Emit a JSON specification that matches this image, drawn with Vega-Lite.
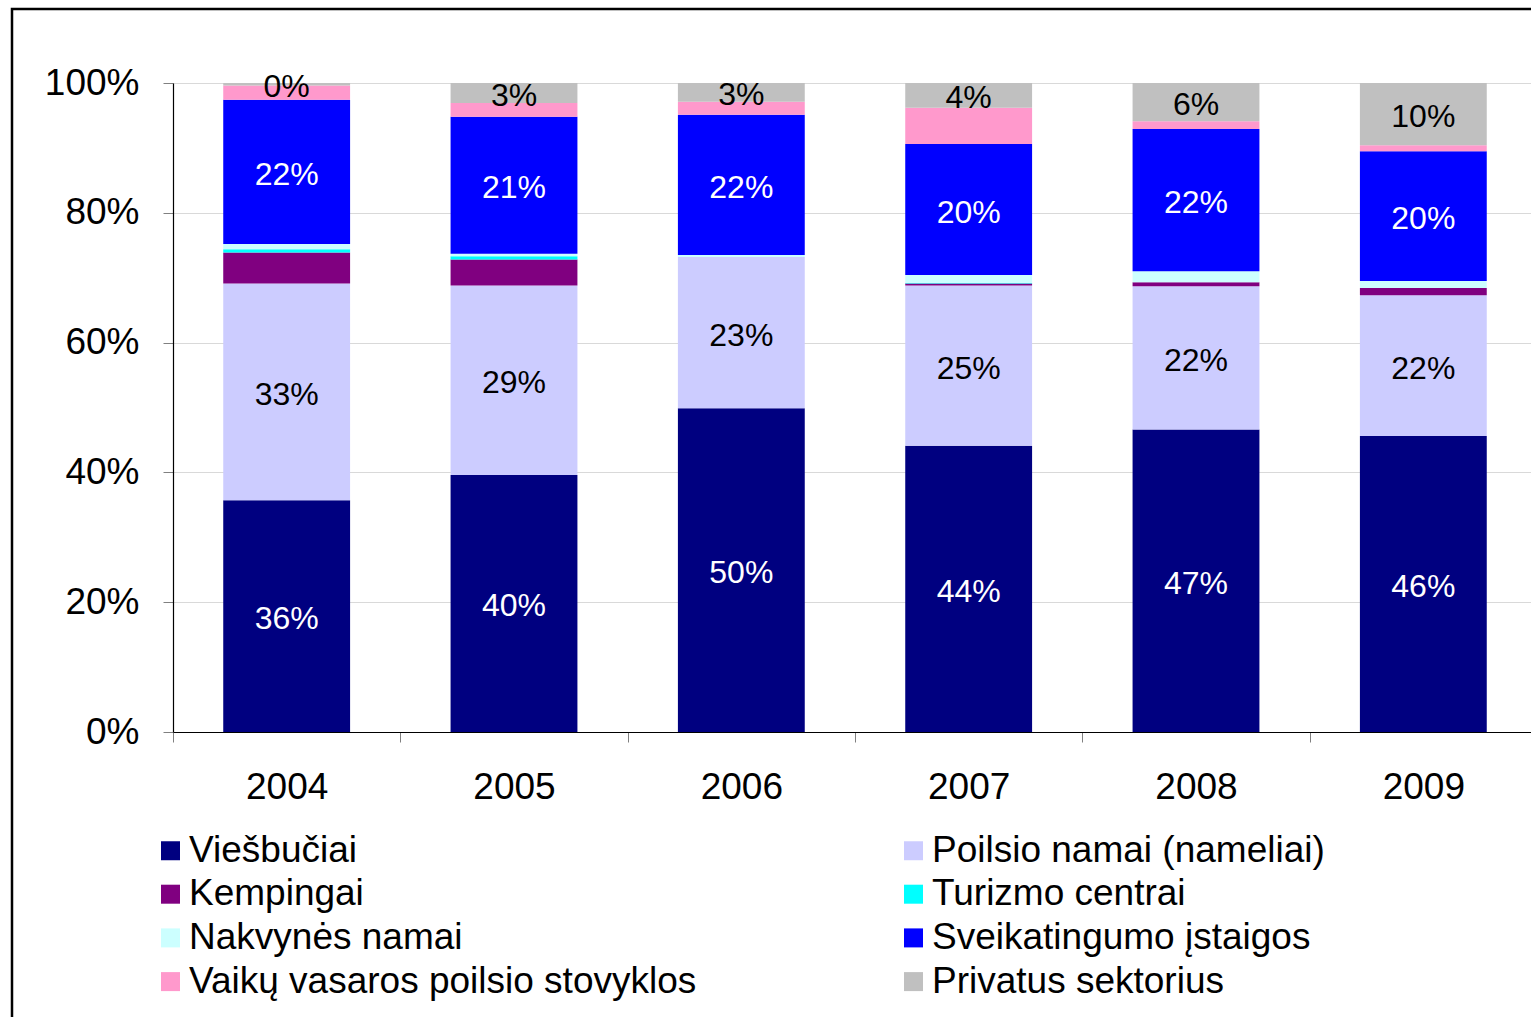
{
  "$schema": "https://vega.github.io/schema/vega-lite/v6.json",
  "autosize": {"type": "none"},
  "padding": {"left": 12, "top": 9, "right": -2, "bottom": -3},
  "width": 1521,
  "height": 1011,
  "background": "white",
  "config": {
    "font": "Liberation Sans",
    "view": {"stroke": "black", "strokeWidth": 2.5},
    "axis": {"labelFont": "Liberation Sans", "labelColor": "black", "title": null}
  },
  "data": {
    "values": [
      {"year": "2004", "cat": "Viešbučiai", "v": 35.7},
      {"year": "2004", "cat": "Poilsio namai (nameliai)", "v": 33.4},
      {"year": "2004", "cat": "Kempingai", "v": 4.8},
      {"year": "2004", "cat": "Turizmo centrai", "v": 0.5},
      {"year": "2004", "cat": "Nakvynės namai", "v": 0.8},
      {"year": "2004", "cat": "Sveikatingumo įstaigos", "v": 22.2},
      {"year": "2004", "cat": "Vaikų vasaros poilsio stovyklos", "v": 2.2},
      {"year": "2004", "cat": "Privatus sektorius", "v": 0.4},
      {"year": "2005", "cat": "Viešbučiai", "v": 39.6},
      {"year": "2005", "cat": "Poilsio namai (nameliai)", "v": 29.2},
      {"year": "2005", "cat": "Kempingai", "v": 4.0},
      {"year": "2005", "cat": "Turizmo centrai", "v": 0.5},
      {"year": "2005", "cat": "Nakvynės namai", "v": 0.4},
      {"year": "2005", "cat": "Sveikatingumo įstaigos", "v": 21.1},
      {"year": "2005", "cat": "Vaikų vasaros poilsio stovyklos", "v": 2.1},
      {"year": "2005", "cat": "Privatus sektorius", "v": 3.1},
      {"year": "2006", "cat": "Viešbučiai", "v": 49.9},
      {"year": "2006", "cat": "Poilsio namai (nameliai)", "v": 23.3},
      {"year": "2006", "cat": "Kempingai", "v": 0.0},
      {"year": "2006", "cat": "Turizmo centrai", "v": 0.0},
      {"year": "2006", "cat": "Nakvynės namai", "v": 0.3},
      {"year": "2006", "cat": "Sveikatingumo įstaigos", "v": 21.6},
      {"year": "2006", "cat": "Vaikų vasaros poilsio stovyklos", "v": 2.0},
      {"year": "2006", "cat": "Privatus sektorius", "v": 2.9},
      {"year": "2007", "cat": "Viešbučiai", "v": 44.1},
      {"year": "2007", "cat": "Poilsio namai (nameliai)", "v": 24.7},
      {"year": "2007", "cat": "Kempingai", "v": 0.3},
      {"year": "2007", "cat": "Turizmo centrai", "v": 0.1},
      {"year": "2007", "cat": "Nakvynės namai", "v": 1.2},
      {"year": "2007", "cat": "Sveikatingumo įstaigos", "v": 20.2},
      {"year": "2007", "cat": "Vaikų vasaros poilsio stovyklos", "v": 5.6},
      {"year": "2007", "cat": "Privatus sektorius", "v": 3.8},
      {"year": "2008", "cat": "Viešbučiai", "v": 46.6},
      {"year": "2008", "cat": "Poilsio namai (nameliai)", "v": 22.1},
      {"year": "2008", "cat": "Kempingai", "v": 0.6},
      {"year": "2008", "cat": "Turizmo centrai", "v": 0.0},
      {"year": "2008", "cat": "Nakvynės namai", "v": 1.7},
      {"year": "2008", "cat": "Sveikatingumo įstaigos", "v": 21.9},
      {"year": "2008", "cat": "Vaikų vasaros poilsio stovyklos", "v": 1.2},
      {"year": "2008", "cat": "Privatus sektorius", "v": 5.9},
      {"year": "2009", "cat": "Viešbučiai", "v": 45.6},
      {"year": "2009", "cat": "Poilsio namai (nameliai)", "v": 21.7},
      {"year": "2009", "cat": "Kempingai", "v": 1.1},
      {"year": "2009", "cat": "Turizmo centrai", "v": 0.0},
      {"year": "2009", "cat": "Nakvynės namai", "v": 1.1},
      {"year": "2009", "cat": "Sveikatingumo įstaigos", "v": 20.0},
      {"year": "2009", "cat": "Vaikų vasaros poilsio stovyklos", "v": 0.9},
      {"year": "2009", "cat": "Privatus sektorius", "v": 9.6}
    ]
  },
  "transform": [
    {"calculate": "indexof(['Viešbučiai','Poilsio namai (nameliai)','Kempingai','Turizmo centrai','Nakvynės namai','Sveikatingumo įstaigos','Vaikų vasaros poilsio stovyklos','Privatus sektorius'], datum.cat)", "as": "k"},
    {"stack": "v", "groupby": ["year"], "sort": [{"field": "k", "order": "ascending"}], "offset": "normalize", "as": ["v0", "v1"]},
    {"calculate": "(datum.v0 + datum.v1) / 2", "as": "mid"},
    {"calculate": "datum.v1 - datum.v0", "as": "frac"}
  ],
  "layer": [
    {
      "mark": {"type": "bar", "width": {"band": 0.558}},
      "encoding": {
        "x": {
          "field": "year", "type": "nominal",
          "scale": {"range": [161, 1525], "paddingInner": 0, "paddingOuter": 0},
          "axis": {
            "orient": "bottom", "offset": -288, "labelAngle": 0,
            "labelFontSize": 37, "labelPadding": 27,
            "tickBand": "extent", "tickSize": 10, "tickColor": "#808080", "tickWidth": 1,
            "domainColor": "black", "domainWidth": 1.2, "grid": false
          }
        },
        "y": {
          "field": "v0", "type": "quantitative",
          "scale": {"domain": [0, 1], "range": [723, 74], "nice": false},
          "axis": {
            "orient": "left", "offset": -161, "format": ".0%", "values": [0, 0.2, 0.4, 0.6, 0.8, 1],
            "labelFontSize": 37, "labelPadding": 24,
            "tickSize": 10, "tickColor": "#808080", "tickWidth": 1,
            "domainColor": "black", "domainWidth": 1.2,
            "grid": true, "gridColor": "#d9d9d9", "gridWidth": 1
          }
        },
        "y2": {"field": "v1"},
        "color": {
          "field": "cat", "type": "nominal",
          "scale": {
            "domain": ["Viešbučiai", "Poilsio namai (nameliai)", "Kempingai", "Turizmo centrai", "Nakvynės namai", "Sveikatingumo įstaigos", "Vaikų vasaros poilsio stovyklos", "Privatus sektorius"],
            "range": ["#000080", "#CCCCFF", "#800080", "#00FFFF", "#CCFFFF", "#0000FF", "#FF99CC", "#C0C0C0"]
          },
          "legend": {
            "title": null, "orient": "none", "legendX": 140, "legendY": 823, "direction": "horizontal",
            "columns": 2, "columnPadding": 198, "rowPadding": 5.7, "padding": 0,
            "symbolType": "square", "symbolSize": 361, "symbolStrokeWidth": 0,
            "labelFont": "Liberation Sans", "labelFontSize": 37, "labelColor": "black",
            "labelOffset": 0, "labelLimit": 1000
          }
        }
      }
    },
    {
      "transform": [
        {"filter": {"field": "cat", "oneOf": ["Viešbučiai", "Poilsio namai (nameliai)", "Sveikatingumo įstaigos", "Privatus sektorius"]}}
      ],
      "mark": {"type": "text", "font": "Liberation Sans", "fontSize": 32, "baseline": "middle", "align": "center", "dy": 3},
      "encoding": {
        "x": {"field": "year", "type": "nominal"},
        "y": {"field": "mid", "type": "quantitative"},
        "text": {"field": "frac", "type": "quantitative", "format": ".0%"},
        "color": {
          "condition": {"test": "datum.cat === 'Viešbučiai' || datum.cat === 'Sveikatingumo įstaigos'", "value": "white"},
          "value": "black"
        }
      }
    }
  ]
}
